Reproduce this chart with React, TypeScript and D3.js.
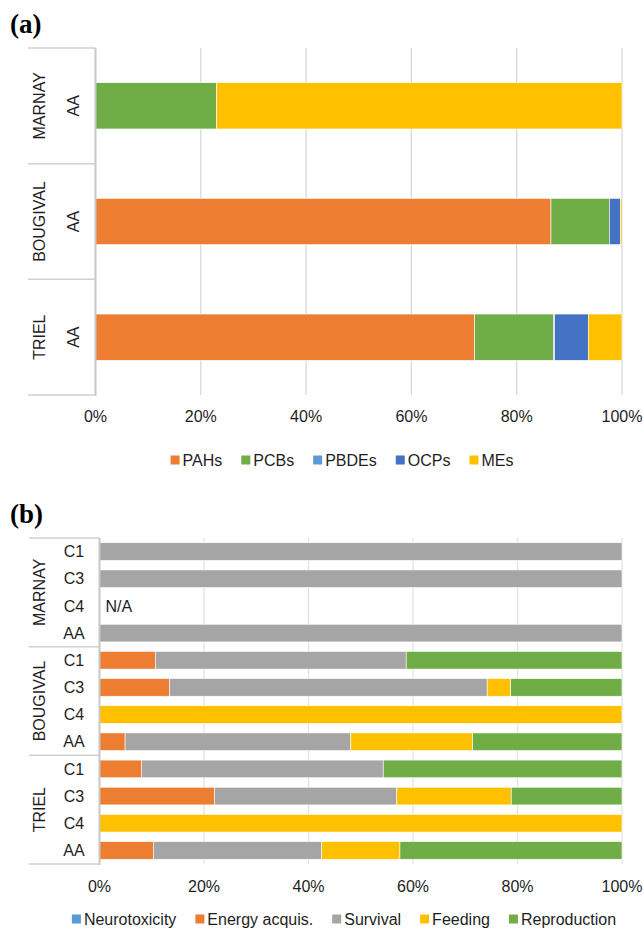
import React, { useEffect, useRef } from 'react';
import * as d3 from 'd3';

// panel (a): contaminant share per site (AA stage)
const sitesA = ['MARNAY', 'BOUGIVAL', 'TRIEL'];
const contaminants = ['PAHs', 'PCBs', 'PBDEs', 'OCPs', 'MEs'];
const pahs = [0, 86.5, 72.0];
const pcbs = [23.0, 11.1, 15.0];
const pbdes = [0, 0, 0.2];
const ocps = [0, 2.1, 6.4];
const mes = [77.0, 0.3, 6.4];

// panel (b): effect share per site and stage
const sitesB = ['MARNAY', 'BOUGIVAL', 'TRIEL'];
const stages = ['C1', 'C3', 'C4', 'AA'];
const effects = ['Neurotoxicity', 'Energy acquis.', 'Survival', 'Feeding', 'Reproduction'];
const neuro = [0, 0, 0, 0, 0, 0, 0, 0, 0, 0, 0, 0];
const energy = [0, 0, 0, 0, 10.7, 13.4, 0, 4.9, 8.0, 22.0, 0, 10.3];
const survival = [100, 100, 0, 100, 48.0, 60.8, 0, 43.2, 46.3, 34.9, 0, 32.2];
const feeding = [0, 0, 0, 0, 0, 4.5, 100, 23.3, 0, 21.9, 100, 15.0];
const repro = [0, 0, 0, 0, 41.3, 21.3, 0, 28.6, 45.7, 21.2, 0, 42.5];
const naRows = ['MARNAY C4'];

const xTicks = [0, 20, 40, 60, 80, 100];
const colorsA = ['#ED7D31', '#70AD47', '#5B9BD5', '#4472C4', '#FFC000'];
const colorsB = ['#5B9BD5', '#ED7D31', '#A5A5A5', '#FFC000', '#70AD47'];

const FONT = '"Liberation Sans", Arial, sans-serif';
const TXT = '#1e1e1e';

type Sel = d3.Selection<SVGGElement, unknown, null, undefined>;

function drawLegend(g: Sel, names: string[], colors: string[], cx: number, cy: number) {
    const items = g.append('g');
    let x = 0;
    names.forEach((n, i) => {
        const it = items.append('g').attr('transform', `translate(${x},0)`);
        it.append('rect').attr('x', 0).attr('y', -4.5).attr('width', 9).attr('height', 9).attr('fill', colors[i]);
        const t = it.append('text')
            .attr('x', 12).attr('y', 0).attr('dy', '0.35em')
            .attr('font-family', FONT).attr('font-size', 16).attr('fill', TXT)
            .text(n);
        const w = (t.node() as SVGTextElement).getComputedTextLength();
        x += 12 + w + 19;
    });
    const total = x - 19;
    items.attr('transform', `translate(${cx - total / 2},${cy})`);
}

const App: React.FC = () => {
    const svgRef = useRef<SVGSVGElement | null>(null);

    useEffect(() => {
        if (!svgRef.current) return;
        const svg = d3.select(svgRef.current);
        svg.selectAll('*').remove();

        // ---------- panel (a) ----------
        const gA = svg.append('g') as unknown as Sel;
        const xA = d3.scaleLinear().domain([0, 100]).range([95.5, 622]);
        const yA = d3.scaleBand<string>().domain(sitesA).range([48, 395]).padding(0);

        gA.append('text').attr('x', 10).attr('y', 33)
            .attr('font-family', '"Liberation Serif", "Times New Roman", serif')
            .attr('font-weight', 'bold').attr('font-size', 27).attr('fill', '#000').text('(a)');

        gA.append('g').selectAll('line').data(xTicks.slice(1)).enter().append('line')
            .attr('x1', (d) => xA(d)).attr('x2', (d) => xA(d))
            .attr('y1', 48).attr('y2', 395)
            .attr('stroke', '#d9d9d9').attr('stroke-width', 1.3);

        const seriesA = [pahs, pcbs, pbdes, ocps, mes];
        sitesA.forEach((s, i) => {
            let acc = 0;
            const bw = yA.bandwidth();
            seriesA.forEach((ser, k) => {
                const v = ser[i];
                if (v > 0) {
                    gA.append('rect')
                        .attr('x', xA(acc)).attr('width', xA(acc + v) - xA(acc))
                        .attr('y', (yA(s) as number) + bw * 0.3).attr('height', bw * 0.4)
                        .attr('fill', colorsA[k])
                        .attr('stroke', '#fff').attr('stroke-width', 0.6);
                }
                acc += v;
            });
        });

        // category box
        const sepA = [48, 48 + yA.bandwidth(), 48 + 2 * yA.bandwidth(), 395];
        gA.append('g').selectAll('line').data(sepA).enter().append('line')
            .attr('x1', 28).attr('x2', 95.5).attr('y1', (d) => d).attr('y2', (d) => d)
            .attr('stroke', '#d0d0d0').attr('stroke-width', 1.5);
        gA.append('line').attr('x1', 95.5).attr('x2', 95.5).attr('y1', 48).attr('y2', 396)
            .attr('stroke', '#c8c8c8').attr('stroke-width', 2);

        sitesA.forEach((s) => {
            const cy = (yA(s) as number) + yA.bandwidth() / 2;
            gA.append('text')
                .attr('transform', `translate(39,${cy}) rotate(-90)`)
                .attr('text-anchor', 'middle').attr('dy', '0.35em')
                .attr('font-family', FONT).attr('font-size', 16).attr('fill', TXT).text(s);
            gA.append('text')
                .attr('transform', `translate(73,${cy}) rotate(-90)`)
                .attr('text-anchor', 'middle').attr('dy', '0.35em')
                .attr('font-family', FONT).attr('font-size', 16).attr('fill', TXT).text('AA');
        });

        gA.append('g').selectAll('text').data(xTicks).enter().append('text')
            .attr('x', (d) => xA(d)).attr('y', 416).attr('dy', '0.35em')
            .attr('text-anchor', 'middle')
            .attr('font-family', FONT).attr('font-size', 16).attr('fill', TXT)
            .text((d) => `${d}%`);

        drawLegend(gA, contaminants, colorsA, 342, 460);

        // ---------- panel (b) ----------
        const gB = svg.append('g') as unknown as Sel;
        const rows: string[] = [];
        sitesB.forEach((s) => stages.forEach((st) => rows.push(`${s} ${st}`)));
        const xB = d3.scaleLinear().domain([0, 100]).range([99.5, 622]);
        const yB = d3.scaleBand<string>().domain(rows).range([538, 864]).padding(0);
        const bwB = yB.bandwidth();

        gB.append('text').attr('x', 10).attr('y', 523)
            .attr('font-family', '"Liberation Serif", "Times New Roman", serif')
            .attr('font-weight', 'bold').attr('font-size', 27).attr('fill', '#000').text('(b)');

        gB.append('g').selectAll('line').data(xTicks.slice(1)).enter().append('line')
            .attr('x1', (d) => xB(d)).attr('x2', (d) => xB(d))
            .attr('y1', 538).attr('y2', 864)
            .attr('stroke', '#e3e3e3').attr('stroke-width', 1.3);

        const seriesB = [neuro, energy, survival, feeding, repro];
        rows.forEach((r, i) => {
            let acc = 0;
            seriesB.forEach((ser, k) => {
                const v = ser[i];
                if (v > 0) {
                    gB.append('rect')
                        .attr('x', xB(acc)).attr('width', xB(acc + v) - xB(acc))
                        .attr('y', (yB(r) as number) + bwB * 0.175).attr('height', bwB * 0.65)
                        .attr('fill', colorsB[k])
                        .attr('stroke', '#fff').attr('stroke-width', 0.6);
                }
                acc += v;
            });
            if (naRows.includes(r)) {
                gB.append('text')
                    .attr('x', xB(0) + 6).attr('y', (yB(r) as number) + bwB / 2).attr('dy', '0.35em')
                    .attr('font-family', FONT).attr('font-size', 16).attr('fill', TXT).text('N/A');
            }
        });

        const sepB = [0, 4, 8, 12].map((k) => 538 + k * bwB);
        gB.append('g').selectAll('line').data(sepB).enter().append('line')
            .attr('x1', 29).attr('x2', 99.5).attr('y1', (d) => d).attr('y2', (d) => d)
            .attr('stroke', '#d0d0d0').attr('stroke-width', 1.5);
        gB.append('line').attr('x1', 99.5).attr('x2', 99.5).attr('y1', 538).attr('y2', 865)
            .attr('stroke', '#c8c8c8').attr('stroke-width', 2);

        sitesB.forEach((s) => {
            const cy = (yB(`${s} C1`) as number) + 2 * bwB;
            gB.append('text')
                .attr('transform', `translate(39,${cy}) rotate(-90)`)
                .attr('text-anchor', 'middle').attr('dy', '0.35em')
                .attr('font-family', FONT).attr('font-size', 16).attr('fill', TXT).text(s);
        });
        rows.forEach((r) => {
            gB.append('text')
                .attr('x', 74).attr('y', (yB(r) as number) + bwB / 2).attr('dy', '0.35em')
                .attr('text-anchor', 'middle')
                .attr('font-family', FONT).attr('font-size', 16).attr('fill', TXT)
                .text(r.split(' ')[1]);
        });

        gB.append('g').selectAll('text').data(xTicks).enter().append('text')
            .attr('x', (d) => xB(d)).attr('y', 886).attr('dy', '0.35em')
            .attr('text-anchor', 'middle')
            .attr('font-family', FONT).attr('font-size', 16).attr('fill', TXT)
            .text((d) => `${d}%`);

        drawLegend(gB, effects, colorsB, 344, 919);
    }, []);

    return (
        <div style={{ position: 'absolute', left: 0, top: 0, width: 643, height: 929, background: '#fff' }}>
            <svg ref={svgRef} width={643} height={929} style={{ display: 'block' }}></svg>
        </div>
    );
};

export default App;
